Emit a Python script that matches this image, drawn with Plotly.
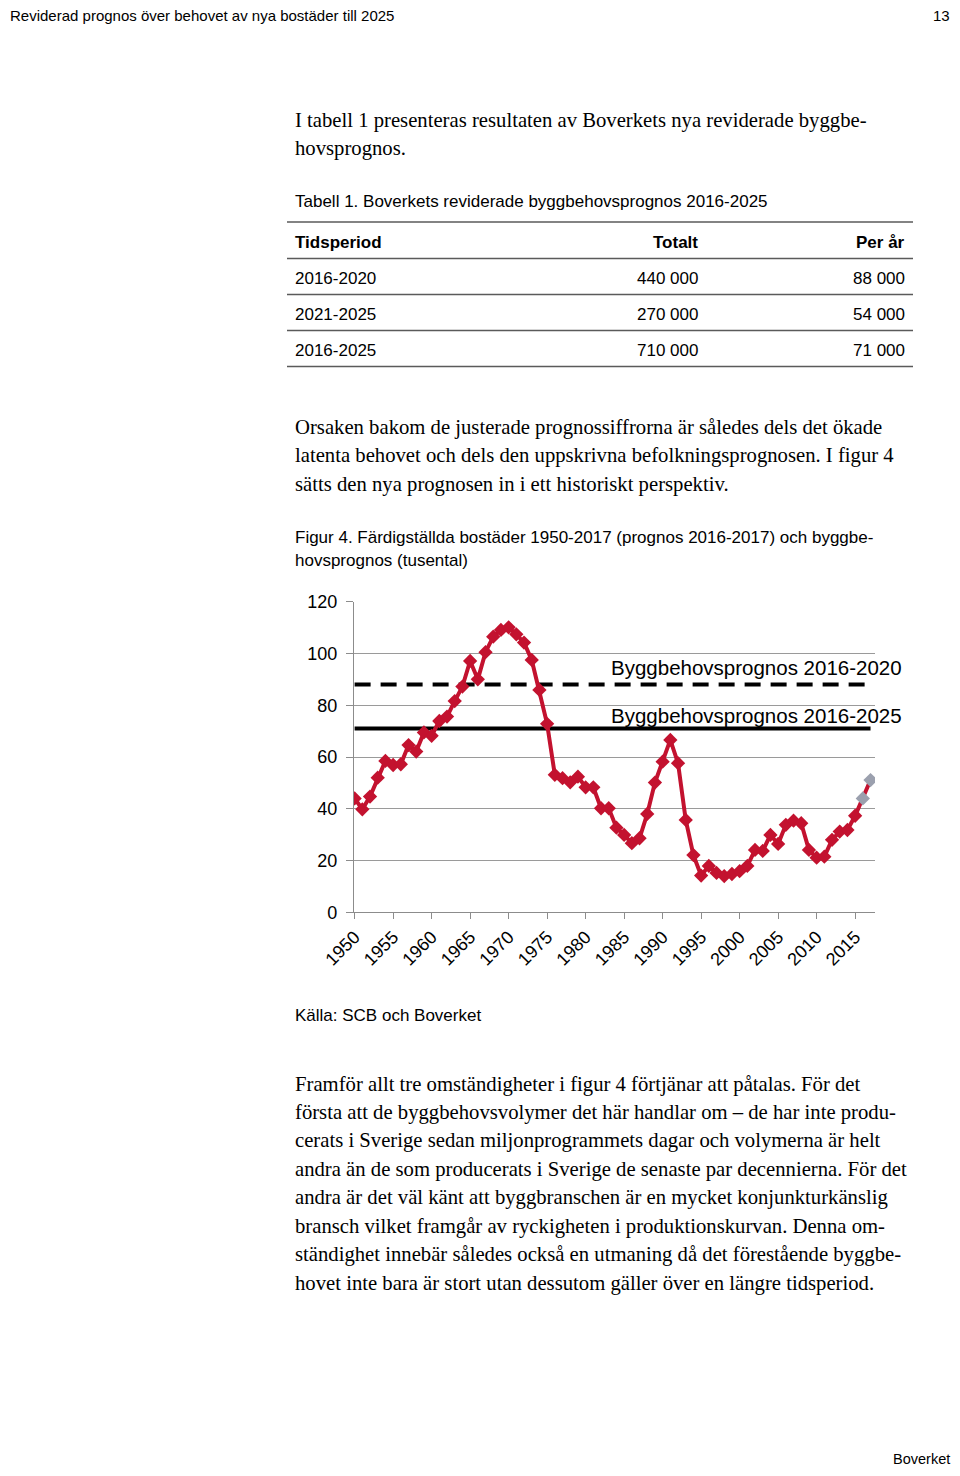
import plotly.graph_objects as go

# ---------------- data ----------------
years = list(range(1950, 2018))
completed = [44.0, 39.8, 44.7, 52.0, 58.5, 56.9, 57.2, 64.6, 62.1, 69.5,
             68.2, 73.9, 75.6, 81.6, 87.2, 97.1, 90.0, 100.5, 106.5, 109.1,
             110.1, 107.4, 104.2, 97.5, 85.9, 72.8, 53.1, 51.8, 50.2, 52.4,
             48.3, 48.3, 40.2, 40.2, 32.7, 29.9, 26.7, 28.6, 38.0, 50.1,
             58.2, 66.6, 57.6, 35.7, 22.1, 14.2, 17.9, 15.2, 14.0, 14.8,
             15.9, 17.9, 24.1, 23.7, 29.9, 26.4, 33.8, 35.4, 34.4, 24.1,
             21.1, 21.5, 28.0, 31.2, 31.8, 37.3, 44.0, 51.1]
forecast_years = [2016, 2017]
prognos_2016_2020 = 88
prognos_2016_2025 = 71
prognos_labels = ["Byggbehovsprognos 2016-2020", "Byggbehovsprognos 2016-2025"]
x_tick_vals = list(range(1950, 2016, 5))
y_tick_vals = [0, 20, 40, 60, 80, 100, 120]

table_head = ["Tidsperiod", "Totalt", "Per år"]
table_period = ["2016-2020", "2021-2025", "2016-2025"]
table_total = ["440 000", "270 000", "710 000"]
table_per_year = ["88 000", "54 000", "71 000"]

header_text = "Reviderad prognos över behovet av nya bostäder till 2025"
page_no = "13"
footer_text = "Boverket"
para1 = ["I tabell 1 presenteras resultaten av Boverkets nya reviderade byggbe-",
         "hovsprognos."]
table_caption = "Tabell 1. Boverkets reviderade byggbehovsprognos 2016-2025"
para2 = ["Orsaken bakom de justerade prognossiffrorna är således dels det ökade",
         "latenta behovet och dels den uppskrivna befolkningsprognosen. I figur 4",
         "sätts den nya prognosen in i ett historiskt perspektiv."]
fig_caption = ["Figur 4. Färdigställda bostäder 1950-2017 (prognos 2016-2017) och byggbe-",
               "hovsprognos (tusental)"]
source_text = "Källa: SCB och Boverket"
para3 = ["Framför allt tre omständigheter i figur 4 förtjänar att påtalas. För det",
         "första att de byggbehovsvolymer det här handlar om – de har inte produ-",
         "cerats i Sverige sedan miljonprogrammets dagar och volymerna är helt",
         "andra än de som producerats i Sverige de senaste par decennierna. För det",
         "andra är det väl känt att byggbranschen är en mycket konjunkturkänslig",
         "bransch vilket framgår av ryckigheten i produktionskurvan. Denna om-",
         "ständighet innebär således också en utmaning då det förestående byggbe-",
         "hovet inte bara är stort utan dessutom gäller över en längre tidsperiod."]

# ---------------- layout helpers ----------------
OFF = 8  # page body margin around the figure
W, H = 960 - 2 * OFF, 1476 - 2 * OFF
SANS = "Liberation Sans, Arial, sans-serif"
SERIF = "Liberation Serif, Times New Roman, serif"
RED = "#C3122F"
GREY_MARK = "#9BA0AE"
BODY = 20.7


def px(x):
    return (x - OFF) / W


def py(y):
    return 1 - (y - OFF) / H


annotations = []
shapes = []


def text(s, x, y, size, family=SANS, anchor="left", bold=False, color="black"):
    if bold:
        s = "<b>" + s + "</b>"
    annotations.append(dict(text=s, x=px(x), y=py(y), xref="paper", yref="paper",
                            xanchor=anchor, yanchor="middle", showarrow=False,
                            font=dict(family=family, size=size, color=color)))


# page header / footer
text(header_text, 8, 16, 15)
text(page_no, 952, 16, 15, anchor="right")
text(footer_text, 952, 1459, 14.5, anchor="right")

# paragraph 1
for i, line in enumerate(para1):
    text(line, 293, 120 + i * 28.5, BODY, SERIF)

# table
text(table_caption, 293, 201, 17)
row_y = [242, 278.5, 314.5, 350.5]
text(table_head[0], 293, row_y[0], 17, bold=True)
text(table_head[1], 700, row_y[0], 17, anchor="right", bold=True)
text(table_head[2], 907, row_y[0], 17, anchor="right", bold=True)
for i in range(len(table_period)):
    text(table_period[i], 293, row_y[i + 1], 17)
    text(table_total[i], 700, row_y[i + 1], 17, anchor="right")
    text(table_per_year[i], 907, row_y[i + 1], 17, anchor="right")
for ly in [222, 258.5, 294.5, 330.5, 366.5]:
    shapes.append(dict(type="line", xref="paper", yref="paper",
                       x0=px(287), x1=px(913), y0=py(ly), y1=py(ly),
                       line=dict(color="#5a5a5a", width=1.6)))

# paragraph 2
for i, line in enumerate(para2):
    text(line, 293, 427 + i * 28.5, BODY, SERIF)

# figure caption
text(fig_caption[0], 293, 537, 17)
text(fig_caption[1], 293, 560, 17)

# source
text(source_text, 293, 1015, 17)

# paragraph 3
for i, line in enumerate(para3):
    text(line, 293, 1084 + i * 28.45, BODY, SERIF)

# line labels (chart)
text(prognos_labels[0], 609, 667, 20.5)
text(prognos_labels[1], 609, 715, 20.5)

# ---------------- chart ----------------
fig = go.Figure()

fig.add_trace(go.Scatter(
    x=[years[0], years[-1]], y=[prognos_2016_2025] * 2, mode="lines",
    line=dict(color="black", width=4), showlegend=False, hoverinfo="skip"))
fig.add_trace(go.Scatter(
    x=[years[0], years[-1]], y=[prognos_2016_2020] * 2, mode="lines",
    line=dict(color="black", width=4, dash="16px,10px"), showlegend=False,
    hoverinfo="skip"))

marker_colors = [GREY_MARK if y in forecast_years else RED for y in years]
fig.add_trace(go.Scatter(
    x=years, y=completed, mode="lines+markers",
    line=dict(color=RED, width=4),
    marker=dict(symbol="diamond", size=11, color=marker_colors,
                line=dict(width=0)),
    showlegend=False))

plot_left, plot_right = 354, 875
plot_top, plot_bottom = 601.7, 912.3

fig.update_layout(
    template="none",
    width=W, height=H,
    margin=dict(l=0, r=0, t=0, b=0, pad=0, autoexpand=False),
    paper_bgcolor="white", plot_bgcolor="white",
    showlegend=False,
    annotations=annotations,
    shapes=shapes,
    xaxis=dict(domain=[px(plot_left), px(plot_right)],
               range=[1949.92, 2017.58], automargin=False,
               tickmode="array", tickvals=x_tick_vals,
               ticktext=[str(v) for v in x_tick_vals],
               tickangle=-45, ticks="outside", ticklen=6, tickcolor="#8c8c8c",
               showline=True, linecolor="#8c8c8c", linewidth=1.2,
               showgrid=False, zeroline=False,
               tickfont=dict(family=SANS, size=18, color="black")),
    yaxis=dict(domain=[py(plot_bottom), py(plot_top)],
               range=[0, 120], automargin=False,
               tickmode="array", tickvals=y_tick_vals,
               ticks="outside", ticklen=7, tickcolor="#8c8c8c",
               showline=True, linecolor="#8c8c8c", linewidth=1.2,
               showgrid=True, gridcolor="#9a9a9a", gridwidth=1.2,
               zeroline=False, ticklabelstandoff=5,
               tickfont=dict(family=SANS, size=18, color="black")),
)

fig.write_html("out.html")
